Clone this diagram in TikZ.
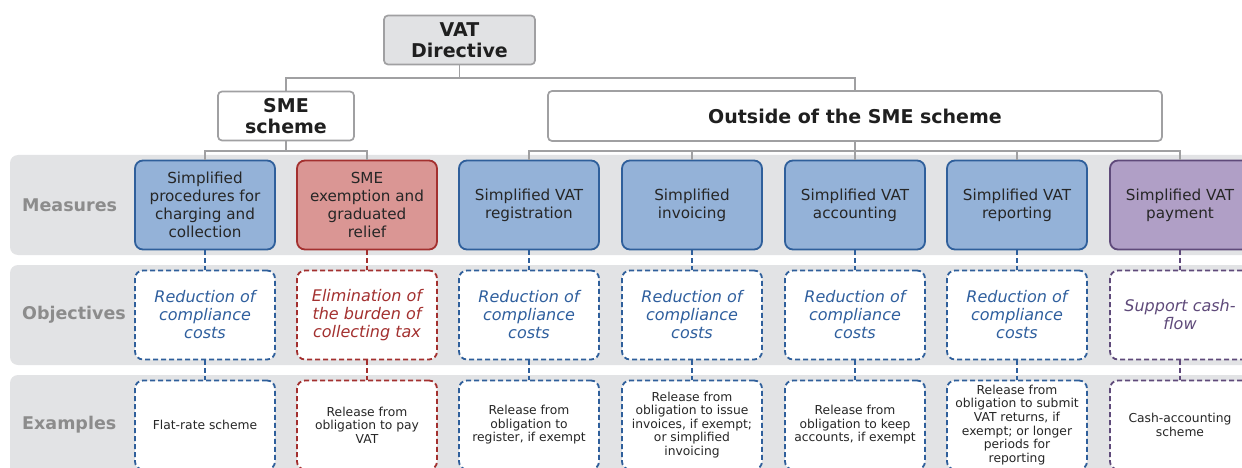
\documentclass[tikz,border=0pt]{standalone}
\usepackage{fontspec}
\setmainfont{DejaVu Sans}
\usepackage{xcolor}
\usetikzlibrary{positioning,calc}
\definecolor{bandgray}{HTML}{E2E3E5}
\definecolor{treegray}{HTML}{A0A0A2}
\definecolor{headfill}{HTML}{E1E2E4}
\definecolor{labelgray}{HTML}{8C8C8C}
\definecolor{fillblue}{HTML}{94B2D8}
\definecolor{lineblue}{HTML}{2F5F9B}
\definecolor{textblue}{HTML}{2F5F9E}
\definecolor{fillred}{HTML}{DA9694}
\definecolor{linered}{HTML}{A3302F}
\definecolor{textred}{HTML}{A3302F}
\definecolor{fillpurple}{HTML}{B09FC6}
\definecolor{linepurple}{HTML}{5F4A7A}
\definecolor{textpurple}{HTML}{5F4A7A}
\tikzset{
  band/.style={fill=bandgray, rounded corners=8pt},
  tree/.style={draw=treegray, line width=1.7pt},
  head/.style={draw=treegray, line width=1.7pt, rounded corners=4pt, fill=white, align=center, inner sep=0pt,
    text=black!88, font=\bfseries\fontsize{19}{21}\selectfont},
  rowlabel/.style={anchor=west, inner sep=0pt, text=labelgray, font=\bfseries\fontsize{17.5}{20}\selectfont},
  colbox/.style={rounded corners=8pt, line width=1.8pt, minimum width=140pt, minimum height=89pt, align=center, inner sep=0pt},
  measure/.style={colbox, text=black!85, font=\fontsize{15.2}{18}\selectfont},
  objective/.style={colbox, fill=white, dash pattern=on 5pt off 3pt, font=\itshape\fontsize{16}{18}\selectfont},
  example/.style={colbox, fill=white, dash pattern=on 5pt off 3pt, text=black!85, font=\fontsize{12.3}{13.6}\selectfont},
  link/.style={line width=1.8pt, dash pattern=on 5pt off 3pt}
}
\begin{document}
\begin{tikzpicture}[x=1pt, y=-1pt]
  \useasboundingbox (0,0) rectangle (1242,468);
  \clip (0,0) rectangle (1242,468);
  \foreach \y in {155,265,375}{\fill[band] (10,\y) rectangle (1270,\y+100);}
  \foreach \y/\name in {205/Measures,315/Objectives,425/Examples}{\node[rowlabel] (lab\y) at (22,\y) {\name};}
  \node[head, fill=headfill, minimum width=151pt, minimum height=49pt] (dir) at (459.5,40) {VAT\\Directive};
  \node[head, minimum width=136pt, minimum height=49pt] (sme) at (286,116) {SME\\scheme};
  \node[head, minimum width=614pt, minimum height=50pt] (out) at (855,116) {Outside of the SME scheme};
  \draw[tree] (dir.south) -- ++(0,13) -| (sme.north);
  \draw[tree] (dir.south) -- ++(0,13) -| (out.north);
  \foreach \x/\c/\measure/\aim/\example [count=\i] in {
      205/blue/{Simplified\\procedures for\\charging and\\collection}/{Reduction of\\compliance\\costs}/{Flat-rate scheme},
      367/red/{SME\\exemption and\\graduated\\relief}/{Elimination of\\the burden of\\collecting tax}/{Release from\\obligation to pay\\VAT},
      529/blue/{Simplified VAT\\registration}/{Reduction of\\compliance\\costs}/{Release from\\obligation to\\register, if exempt},
      692/blue/{Simplified\\invoicing}/{Reduction of\\compliance\\costs}/{Release from\\obligation to issue\\invoices, if exempt;\\or simplified\\invoicing},
      855/blue/{Simplified VAT\\accounting}/{Reduction of\\compliance\\costs}/{Release from\\obligation to keep\\accounts, if exempt},
      1017/blue/{Simplified VAT\\reporting}/{Reduction of\\compliance\\costs}/{Release from\\obligation to submit\\VAT returns, if\\exempt; or longer\\periods for\\reporting},
      1180/purple/{Simplified VAT\\payment}/{Support cash-\\flow}/{Cash-accounting\\scheme}}{
    \node[measure, fill=fill\c, draw=line\c] (m\i) at (\x,205) {\measure};
    \node[objective, draw=line\c, text=text\c] (o\i) at (\x,315) {\aim};
    \node[example, draw=line\c] (e\i) at (\x,425) {\example};
    \draw[link, draw=line\c] (m\i.south) -- (o\i.north);
    \draw[link, draw=line\c] (o\i.south) -- (e\i.north);
  }
  \foreach \k in {1,2}{\draw[tree] (sme.south) -- ++(0,9.5) -| (m\k.north);}
  \foreach \k in {3,...,7}{\draw[tree] (out.south) -- ++(0,9.5) -| (m\k.north);}
\end{tikzpicture}
\end{document}
